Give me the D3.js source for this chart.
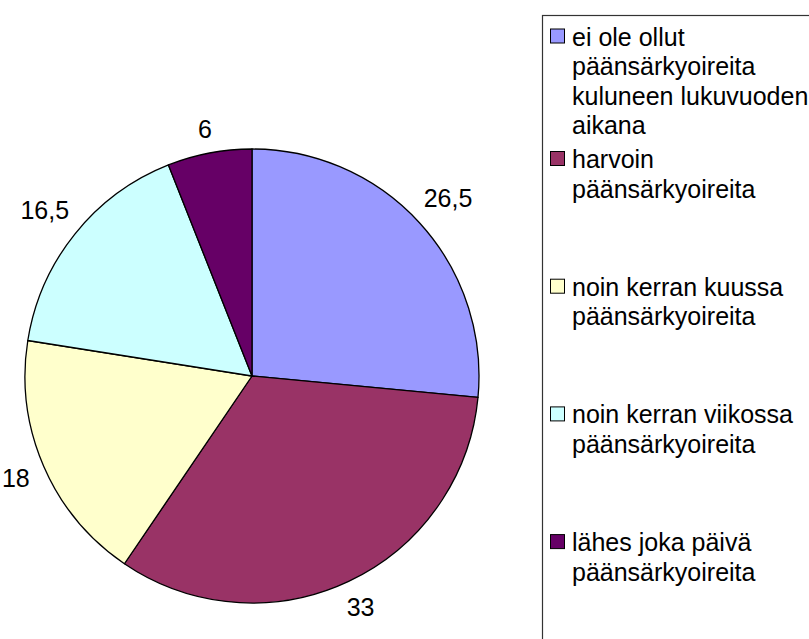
<!DOCTYPE html>
<html>
<head>
<meta charset="utf-8">
<title>Päänsärkyoireet</title>
<style>
    body { margin: 0; background: #fff; }
    svg { display: block; }
    text { font-family: "Liberation Sans", Arial, sans-serif; fill: #000; }
</style>
<script src="https://d3js.org/d3.v7.min.js"></script>
</head>
<body>
<script>
// chart data
var categories = [
    "ei ole ollut päänsärkyoireita kuluneen lukuvuoden aikana",
    "harvoin päänsärkyoireita",
    "noin kerran kuussa päänsärkyoireita",
    "noin kerran viikossa päänsärkyoireita",
    "lähes joka päivä päänsärkyoireita"
];
var legendLines = [
    ["ei ole ollut", "päänsärkyoireita", "kuluneen lukuvuoden", "aikana"],
    ["harvoin", "päänsärkyoireita"],
    ["noin kerran kuussa", "päänsärkyoireita"],
    ["noin kerran viikossa", "päänsärkyoireita"],
    ["lähes joka päivä", "päänsärkyoireita"]
];
var values = [26.5, 33, 18, 16.5, 6];
var valueLabels = ["26,5", "33", "18", "16,5", "6"];
var colors = ["#9999ff", "#993366", "#ffffcc", "#ccffff", "#660066"];

var width = 809, height = 639;
var cx = 252, cy = 376, radius = 227;

var svg = d3.select("body").append("svg")
    .attr("width", width)
    .attr("height", height);

var color = d3.scaleOrdinal().domain(categories).range(colors);

var pie = d3.pie().sort(null).value(function(d) { return d.value; });
var arc = d3.arc().innerRadius(0).outerRadius(radius);

var data = categories.map(function(c, i) {
    return { name: c, value: values[i], label: valueLabels[i] };
});

var g = svg.append("g").attr("transform", "translate(" + cx + "," + cy + ")");

g.selectAll("path")
    .data(pie(data))
    .enter()
    .append("path")
    .attr("d", arc)
    .attr("fill", function(d) { return color(d.data.name); })
    .attr("stroke", "#000")
    .attr("stroke-width", 1.3)
    .attr("stroke-linejoin", "round");

// value labels outside the pie, box pushed out from a ring
var labelGap = 241;
g.selectAll("text.val")
    .data(pie(data))
    .enter()
    .append("text")
    .attr("class", "val")
    .attr("font-size", 25)
    .attr("text-anchor", "middle")
    .attr("dominant-baseline", "central")
    .text(function(d) { return d.data.label; })
    .each(function(d) {
        var a = (d.startAngle + d.endAngle) / 2;
        var sx = Math.sin(a), sy = -Math.cos(a);
        var bb = this.getBBox();
        var ext = Math.abs(sx) * bb.width / 2 + Math.abs(sy) * 9;
        var r = labelGap + ext;
        d3.select(this).attr("x", sx * r).attr("y", sy * r);
    });

// legend
var legend = svg.append("g");
legend.append("rect")
    .attr("x", 542.5)
    .attr("y", 15.5)
    .attr("width", 300)
    .attr("height", 700)
    .attr("fill", "#fff")
    .attr("stroke", "#333")
    .attr("stroke-width", 1.2);

var item = legend.selectAll("g.item")
    .data(data)
    .enter()
    .append("g")
    .attr("class", "item")
    .attr("transform", function(d, i) {
        var y = i === 0 ? 45.5 : 168 + (i - 1) * 127.7;
        return "translate(572," + y + ")";
    });

item.append("rect")
    .attr("x", -21.5)
    .attr("y", -16.5)
    .attr("width", 14)
    .attr("height", 14)
    .attr("fill", function(d) { return color(d.name); })
    .attr("stroke", "#000")
    .attr("stroke-width", 1);

item.each(function(d, i) {
    d3.select(this).selectAll("text")
        .data(legendLines[i])
        .enter()
        .append("text")
        .attr("x", 0)
        .attr("y", function(t, j) { return j * 29.5; })
        .attr("font-size", 25)
        .text(function(t) { return t; });
});
</script>
</body>
</html>
